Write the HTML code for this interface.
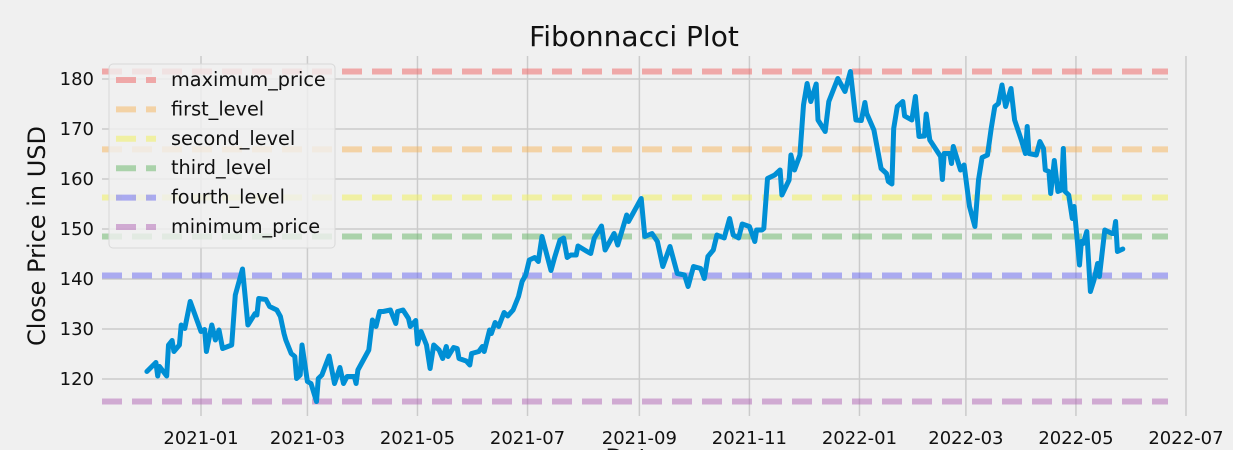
<!DOCTYPE html>
<html><head><meta charset="utf-8"><style>
html,body{margin:0;padding:0;background:#f0f0f0;width:1233px;height:450px;overflow:hidden;}
svg{display:block;font-family:"DejaVu Sans","Liberation Sans",sans-serif;}
</style></head><body>
<svg id="chart" width="1233" height="450" viewBox="0 0 1233 450">
<rect x="0" y="0" width="1233" height="450" fill="#f0f0f0"/>
<g id="grid"></g>
<g id="levels"></g>
<g id="series"></g>
<g id="axes"></g>
<text x="634" y="46" font-size="28" text-anchor="middle" fill="#111">Fibonnacci Plot</text>
<text transform="translate(45,236) rotate(-90)" font-size="24" text-anchor="middle" fill="#111">Close Price in USD</text>
<text x="634" y="466" font-size="24" text-anchor="middle" fill="#111">Date</text>
<g id="legend"></g>
</svg>
<script>
// days since 2021-01-01
const dayOffsets = [-30,-25,-24,-23,-19,-18,-16,-15,-12,-11,-9,-6,-2,0,2,3,6,8,10,12,17,19,23,26,30,31,32,36,38,42,44,46,47,50,52,53,55,56,59,61,64,65,67,71,74,77,79,81,85,86,87,93,95,97,99,101,105,108,109,112,115,116,119,120,122,125,127,129,132,134,136,137,140,142,143,147,149,150,154,156,157,160,161,163,165,168,170,173,176,178,180,182,185,187,189,194,196,199,201,203,205,208,209,214,216,218,222,224,229,231,236,237,244,246,250,253,256,260,264,268,270,273,277,279,281,284,286,290,293,295,298,300,304,307,308,311,312,314,318,321,322,326,327,329,332,334,336,338,341,342,346,348,353,357,360,363,366,368,369,373,377,380,381,383,384,386,389,390,394,396,398,401,402,404,410,411,412,415,416,417,421,423,426,429,431,433,436,438,440,442,444,446,449,451,455,457,458,459,463,465,467,468,470,471,473,475,477,478,479,481,483,484,487,488,489,491,493,495,497,498,501,505,506,507,508,511];
const closePrices = [121.5,123.3,120.6,122.5,120.6,126.8,127.7,125.5,126.8,130.8,130.1,135.5,131.5,129.5,129.9,125.5,130.8,127.8,129.8,126.1,126.8,136.8,142,130.8,133.1,132.8,136.1,135.9,134.5,133.8,132.5,129.1,127.8,125.1,124.5,120.1,120.8,126.8,119.5,119.1,115.5,120.1,120.8,124.6,119.1,122.3,119.1,120.5,120.5,119.1,121.8,125.8,131.8,130.5,133.5,133.5,133.8,131.1,133.5,133.8,132.1,130.5,131.7,127,129.5,126.8,122.1,126.8,125.8,124.1,126.5,124.5,126.3,126.1,124.1,123.6,122.8,125.1,125.5,126.5,125.5,129.8,129.1,131.3,130.5,133.3,132.6,133.8,136.5,139.5,140.8,143.8,144.3,143.5,148.5,141.7,144.3,147.8,148.2,144.3,144.8,144.8,146.6,145.5,145.1,148.2,150.6,145.8,149.1,146.8,152.8,151.5,156.1,148.5,149.1,147.5,142.5,146.5,141.1,140.8,138.5,142.5,142.1,140.1,144.5,145.8,148.8,148.2,152.1,148.8,148.2,151,150.5,147.5,149.8,149.8,150.1,160.1,160.8,161.8,156.8,159.8,164.8,161.8,164.8,174.8,179.1,175.5,179,171.8,169.5,175.5,180.1,177.5,181.5,171.8,171.7,175.3,173.1,169.8,162.1,161.1,159.5,159,170.1,174.5,175.5,172.6,171.8,176.5,168.5,168.6,173,167.8,164.5,159.9,165.1,165.1,163.1,166.5,161.8,162.8,154.5,150.5,159.8,164.3,164.8,170.1,174.5,175.1,178.8,174.5,178.1,171.8,167.5,165.1,170.5,165.1,164.8,167.5,166.1,161.8,161.5,157.1,163.7,157.5,157.8,166.1,157.5,156.8,152.1,154.5,142.8,147.5,147.1,149.5,137.5,139.8,143.1,140.5,149.8,149.1,149.1,151.5,145.5,146];
const yTicks = [120,130,140,150,160,170,180];
const xTickLabels = ["2021-01","2021-03","2021-05","2021-07","2021-09","2021-11","2022-01","2022-03","2022-05","2022-07"];
const xTickDays = [0,59,120,181,243,304,365,424,485,546];
const levelNames = ["maximum_price","first_level","second_level","third_level","fourth_level","minimum_price"];
const levelRatios = [0,0.236,0.382,0.5,0.618,1];

const NS="http://www.w3.org/2000/svg";
const PL=102, PR=1168, PT=56, PB=416;
function xOf(d){return 201 + d*1.804;}
function yOf(v){return 79 + (180 - v)*5;}
function mk(tag, attrs, parent){const e=document.createElementNS(NS,tag);for(const k in attrs)e.setAttribute(k,attrs[k]);parent.appendChild(e);return e;}

const grid=document.getElementById('grid'), axes=document.getElementById('axes');
yTicks.forEach(v=>{
  const l=mk('line',{x1:PL,x2:PR,y1:yOf(v),y2:yOf(v),stroke:'#cbcbcb','stroke-width':1.5},grid);
  
  
  const t=mk('text',{x:94,y:yOf(v)+6,'font-size':18,'text-anchor':'end',fill:'#111'},axes);
  t.textContent=v;
  
  
});
xTickDays.forEach((d,i)=>{
  const l=mk('line',{x1:xOf(d),x2:xOf(d),y1:PT,y2:PB,stroke:'#cbcbcb','stroke-width':1.5},grid);
  
  
  const t=mk('text',{x:xOf(d),y:444,'font-size':18,'text-anchor':'middle',fill:'#111'},axes);
  t.textContent=xTickLabels[i];
  
  
});

const maxP=Math.max(...closePrices), minP=Math.min(...closePrices);
const levelColors=['rgba(238,110,110,0.55)','rgba(245,180,90,0.5)','rgba(240,240,100,0.55)','rgba(100,180,100,0.5)','rgba(100,100,240,0.5)','rgba(175,100,180,0.5)'];
const levels=document.getElementById('levels');
levelRatios.forEach((r,i)=>{
  const v=maxP-r*(maxP-minP);
  const l=mk('line',{x1:PL,x2:PR,y1:yOf(v),y2:yOf(v),stroke:levelColors[i],'stroke-width':6,'stroke-dasharray':'20 10'},levels);
  
  
});

const series=document.getElementById('series');
const pts=dayOffsets.map((d,i)=>xOf(d).toFixed(1)+','+yOf(closePrices[i]).toFixed(1)).join(' ');
const pl=mk('polyline',{points:pts,fill:'none',stroke:'#008fd5','stroke-width':5,'stroke-linejoin':'round','stroke-linecap':'round'},series);



const lg=document.getElementById('legend');
const box=mk('rect',{x:109,y:64,width:226,height:184,rx:4,fill:'rgba(240,240,240,0.8)',stroke:'#d8d8d8','stroke-width':1},lg);


levelNames.forEach((n,i)=>{
  const y=80+i*29.4;
  const h=mk('line',{x1:116,x2:156,y1:y,y2:y,stroke:levelColors[i],'stroke-width':6,'stroke-dasharray':'20 10'},lg);
  
  
  const t=mk('text',{x:171,y:y+6,'font-size':19.3,fill:'#111'},lg);
  t.textContent=n;
  
  
});
</script>
</body></html>
